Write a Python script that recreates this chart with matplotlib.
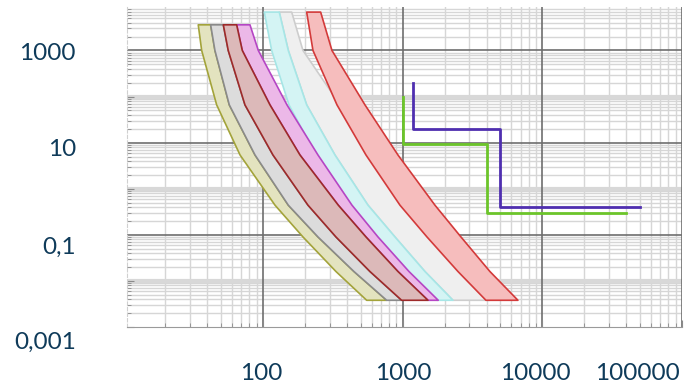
import matplotlib
matplotlib.use("Agg")
import matplotlib.pyplot as plt
import numpy as np

# ---- data ----
# time levels for the two groups of bands (top -> bottom)
Y_LOW = [3600, 1000, 66, 5.4, 0.44, 0.09, 0.016, 0.0038]
Y_HIGH = [6800, 1000, 66, 5.4, 0.44, 0.09, 0.016, 0.0038]

# boundary curves: current at each time level
B0 = [34.4, 36.4, 46.6, 68.5, 121.9, 193.3, 333, 552.6]
B1 = [42.2, 45.3, 57.4, 87.7, 151.8, 247.6, 448.1, 768.6]
B2 = [52.0, 56.4, 74.3, 117.9, 210, 333, 583.3, 983.6]
B3 = [64.8, 71.1, 112.2, 184, 346, 546.2, 925.6, 1518]
B4 = [80.7, 92.6, 148.5, 247.6, 433.6, 665.8, 1110, 1798]
B5 = [102.2, 115.4, 153.5, 239.5, 419.6, 644.2, 1073.5, 1760]
B6 = [130.8, 151.8, 205.5, 327.6, 564.6, 880.6, 1444, 2292]
B7 = [160.5, 193.3, 355.9, 602.9, 1039, 1703, 2792, 4215]
B8 = [205.5, 228, 338.7, 546.2, 956.5, 1493, 2489, 3947]
B9 = [258.8, 311.8, 537.3, 925.6, 1703, 2614, 4215, 6689]

# step characteristics
green_x = [1000, 1000, 4000, 4000, 40000]
green_y = [100, 9.5, 9.5, 0.3, 0.3]
purple_x = [1180, 1180, 5000, 5000, 50000]
purple_y = [200, 20, 20, 0.4, 0.4]

x_labels = ["100", "1000", "10000", "100000"]
y_labels = ["1000", "10", "0,1", "0,001"]

# ---- figure ----
W, H = 697, 385
fig = plt.figure(figsize=(W / 100, H / 100), dpi=100)
ax = fig.add_axes([127 / W, 1 - 327 / H, 555 / W, 320 / H])
ax.set_xscale("log")
ax.set_yscale("log")
ax.set_xlim(10.63, 100000)
ax.set_ylim(0.001, 8770)

# grid (drawn by hand: two levels of horizontal decades)
for dec in [10, 100, 1000, 10000]:
    for k in range(2, 10):
        ax.axvline(dec * k, color="#d6d6d6", lw=1.0, zorder=0)
for dec in [100, 1000, 10000, 100000]:
    ax.axvline(dec, color="#6e6e6e", lw=1.2, zorder=0.5)
for dec in [0.001, 0.01, 0.1, 1, 10, 100, 1000]:
    for k in range(2, 10):
        if dec * k < 8770:
            ax.axhline(dec * k, color="#d6d6d6", lw=1.0, zorder=0)
for dec in [0.01, 1, 100]:
    ax.axhline(dec, color="#d8d8d8", lw=3.0, zorder=0)
for dec in [0.1, 10, 1000]:
    ax.axhline(dec, color="#6e6e6e", lw=1.2, zorder=0.5)


def band(left, right, ys, face, edge):
    xs = list(left) + list(right)[::-1] + [left[0]]
    yy = list(ys) + list(ys)[::-1] + [ys[0]]
    ax.fill(xs, yy, facecolor=face, edgecolor=edge, lw=1.2, zorder=2,
            joinstyle="round")


band(B6, B7, Y_HIGH, "#efefef", "#cdcdcd")
band(B8, B9, Y_HIGH, "#f6bdbd", "#d33a3a")
band(B5, B6, Y_HIGH, "#d4f4f4", "#a6e6e6")
band(B3, B4, Y_LOW, "#ecb8e8", "#b546c4")
band(B0, B1, Y_LOW, "#e3e3bf", "#a3a33a")
band(B1, B2, Y_LOW, "#dcdcdc", "#8a8a8a")
band(B2, B3, Y_LOW, "#dcb9b9", "#9e2a2a")

ax.plot(green_x, green_y, color="#6cc52a", lw=2.0, zorder=3)
ax.plot(purple_x, purple_y, color="#4f2fb0", lw=2.0, zorder=3)

for s in ["top", "right"]:
    ax.spines[s].set_visible(False)
ax.spines["bottom"].set_color("#9a9a9a")
ax.spines["left"].set_color("#d0d0d0")
ax.spines["left"].set_linestyle((0, (3, 2)))
ax.tick_params(which="both", direction="in", colors="#8a8a8a",
               labelbottom=False, labelleft=False)
ax.tick_params(which="major", length=5)
ax.tick_params(which="minor", length=3)

# axis labels as placed in the original
lab = dict(color="#0f3b5a", fontsize=17.5, family=["Lato", "DejaVu Sans"])
for t, px in zip(x_labels, [261, 403, 535, 637]):
    fig.text(px / W, 1 - 373 / H, t, ha="center", va="center", **lab)
for t, py in zip(y_labels, [53, 149, 247, 342]):
    fig.text(76 / W, 1 - py / H, t, ha="right", va="center", **lab)

fig.savefig("out.png", dpi=100)
